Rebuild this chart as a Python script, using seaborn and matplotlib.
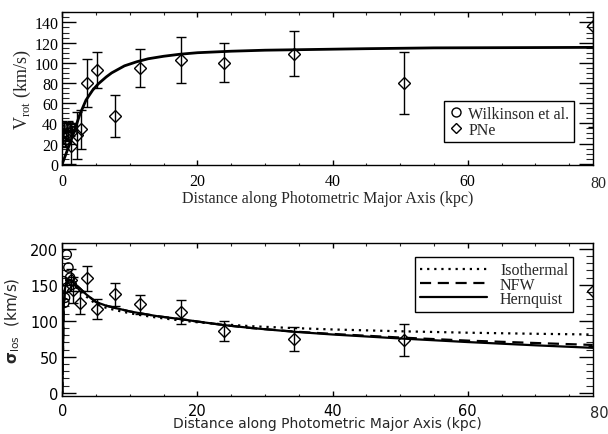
import numpy as np
import pandas as pd
import matplotlib
matplotlib.use('Agg')
import matplotlib.pyplot as plt
import seaborn as sns
from matplotlib.ticker import MultipleLocator
from matplotlib.lines import Line2D

# ---------------- data ----------------
# Wilkinson et al. (inner points)
wilk_r = [0.1, 0.25, 0.4, 0.55, 0.7, 0.9, 1.15, 1.45]
wilk_vrot = [26, 37, 22, 29, 36, 28, 37, 32]
wilk_vrot_err = [5, 5, 5, 5, 5, 5, 5, 5]
wilk_r_sig = [0.15, 0.3, 0.4, 0.65, 0.65, 0.9, 1.15, 1.4]
wilk_sigma = [155, 125, 132, 192, 146, 174, 160, 150]

# PNe
pne_r = [1.3, 2.1, 2.7, 3.7, 5.2, 7.8, 11.5, 17.5, 24.0, 34.3, 50.5, 78.5]
pne_vrot = [18, 28, 34, 80, 93, 47, 95, 103, 100, 109, 80, 136]
pne_vrot_err = [21, 23, 19, 24, 18, 21, 19, 23, 19.5, 22.5, 31, 100]
pne_r_sig = [1.3, 1.6, 2.6, 3.7, 5.2, 7.8, 11.5, 17.5, 24.0, 34.3, 50.5, 78.5]
pne_sigma = [157, 143, 125, 159, 116, 137, 123, 112, 85.5, 75, 73.4, 141]
pne_sigma_err = [15, 18, 16, 17, 14, 16, 13, 17, 13.6, 17, 22, 76]

# rotation-curve model
rot_r = [0, 0.5, 1, 1.5, 2, 2.6, 3.5, 4.5, 5.3, 6.5, 7.3, 9.2, 11, 12.7, 15,
         17.4, 20, 25, 30, 35, 45, 55, 65, 78.5]
rot_v = [0, 9, 18, 27, 37, 49, 63, 73, 79, 86, 90, 97, 101, 104, 106.5,
         108.5, 110, 111.5, 112.5, 113, 114, 114.8, 115, 115.3]

# dispersion models
mod_r = [0, 0.2, 0.4, 0.6, 0.9, 1.3, 2, 2.6, 3.5, 5, 6.5, 8, 10, 11.5, 14,
         17.4, 20, 24, 28, 34, 40, 50, 60, 70, 78.5]
sig_hern = [0, 120, 145, 153, 157, 156, 150, 145, 137, 126, 121, 117.5, 113,
            110.5, 106.5, 102.5, 99, 94, 90, 85, 81, 75.5, 70.5, 66, 62.5]
sig_nfw = [0, 120, 145, 153, 157, 156, 150, 145, 137, 126, 121, 117.5, 113,
           110.5, 106.5, 102.5, 99, 94, 90, 85.3, 81.8, 76.8, 72.5, 69.2, 66.5]
sig_iso = [0, 118, 142, 150, 154, 153, 147, 142, 134, 123, 118, 114.5, 110.5,
           108, 104.5, 100.5, 98, 95, 92.5, 90, 88, 85.5, 83.5, 82, 81]

xticks = [0, 20, 40, 60]
last_tick_label = '80'
xlabel = 'Distance along Photometric Major Axis (kpc)'

# ---------------- style ----------------
sns.set_theme(style='ticks')
plt.rcParams['font.family'] = ['Liberation Serif', 'DejaVu Serif']
plt.rcParams['mathtext.fontset'] = 'custom'
plt.rcParams['mathtext.rm'] = 'Liberation Serif'
plt.rcParams['mathtext.it'] = 'DejaVu Sans:italic'
plt.rcParams['mathtext.sf'] = 'DejaVu Sans'
plt.rcParams['mathtext.bf'] = 'DejaVu Sans:bold'

SERIF = 'Liberation Serif'
SANS = 'DejaVu Sans'

fig = plt.figure(figsize=(6.08, 4.35), dpi=100)
fig.patch.set_facecolor('white')
ax1 = fig.add_axes([0.1025, 0.619, 0.8724, 0.3503])
ax2 = fig.add_axes([0.1025, 0.088, 0.8724, 0.351])

for ax in (ax1, ax2):
    ax.set_facecolor('white')
    for s in ax.spines.values():
        s.set_visible(True)
        s.set_color('black')
        s.set_linewidth(1.0)
    ax.set_xlim(0, 78.5)
    ax.xaxis.set_major_locator(MultipleLocator(20))
    ax.xaxis.set_minor_locator(MultipleLocator(5))
    ax.tick_params(axis='x', which='major', direction='in', length=3.5, width=1,
                   top=True, bottom=True, colors='black')
    ax.tick_params(axis='x', which='minor', direction='in', length=1.8, width=0.8,
                   top=True, bottom=True)
    ax.tick_params(axis='y', which='major', direction='in', length=10, width=1,
                   left=True, right=True, colors='black')
    ax.tick_params(axis='y', which='minor', direction='in', length=5, width=0.8,
                   left=True, right=True)
    ax.grid(False)

# ---------------- top panel ----------------
sns.lineplot(x=rot_r, y=rot_v, ax=ax1, color='black', lw=2.0, estimator=None,
             sort=False, legend=False)
ax1.errorbar(wilk_r, wilk_vrot, yerr=wilk_vrot_err, fmt='o', ms=6.5, mfc='none',
             mec='black', mew=1.0, ecolor='black', elinewidth=1.0, capsize=2.5,
             capthick=1.0, clip_on=True)
ax1.errorbar(pne_r, pne_vrot, yerr=pne_vrot_err, fmt='D', ms=6, mfc='none',
             mec='black', mew=1.0, ecolor='black', elinewidth=1.0, capsize=3.5,
             capthick=1.0, clip_on=True)
ax1.set_ylim(-1, 150)
ax1.yaxis.set_major_locator(MultipleLocator(20))
ax1.yaxis.set_minor_locator(MultipleLocator(5))
ax1.set_xticks(xticks)
for lab in ax1.get_xticklabels() + ax1.get_yticklabels():
    lab.set_fontfamily(SERIF)
    lab.set_fontsize(11.5)
ax1.tick_params(axis='x', pad=6)
ax1.tick_params(axis='y', pad=3)
ax1.text(79.4, -0.07, last_tick_label, transform=ax1.get_xaxis_transform(),
         ha='center', va='top', fontfamily=SERIF, fontsize=11.5, clip_on=False)
ax1.set_xlabel(xlabel, fontfamily=SERIF, fontsize=11.5, labelpad=1)
ax1.set_ylabel(r'V$_{\rm rot}$ (km/s)', fontfamily=SERIF, fontsize=13, labelpad=1)

h_w = Line2D([], [], ls='none', marker='o', ms=6.5, mfc='none', mec='black', mew=1)
h_p = Line2D([], [], ls='none', marker='D', ms=5.5, mfc='none', mec='black', mew=1)
leg1 = ax1.legend([h_w, h_p], ['Wilkinson et al.', 'PNe'], loc='lower right',
                  bbox_to_anchor=(0.965, 0.147), frameon=True, fancybox=False,
                  shadow=False, framealpha=1, edgecolor='black',
                  prop={'family': SERIF, 'size': 11.5}, handlelength=0.8,
                  handletextpad=0.4, borderpad=0.3, labelspacing=0.0,
                  borderaxespad=0)
leg1.get_frame().set_linewidth(1.0)

# ---------------- bottom panel ----------------
sns.lineplot(x=mod_r, y=sig_iso, ax=ax2, color='black', lw=1.6, estimator=None,
             sort=False, legend=False, linestyle=(0, (1, 2.2)))
sns.lineplot(x=mod_r, y=sig_nfw, ax=ax2, color='black', lw=1.6, estimator=None,
             sort=False, legend=False, linestyle=(0, (5, 3)))
sns.lineplot(x=mod_r, y=sig_hern, ax=ax2, color='black', lw=1.6, estimator=None,
             sort=False, legend=False)
sns.scatterplot(x=wilk_r_sig, y=wilk_sigma, ax=ax2, s=45, marker='o',
                facecolor='none', edgecolor='black', linewidth=1.0, zorder=3,
                legend=False)
ax2.errorbar(pne_r_sig, pne_sigma, yerr=pne_sigma_err, fmt='D', ms=6, mfc='none',
             mec='black', mew=1.0, ecolor='black', elinewidth=1.0, capsize=3.5,
             capthick=1.0)
ax2.set_ylim(-4, 208)
ax2.yaxis.set_major_locator(MultipleLocator(50))
ax2.yaxis.set_minor_locator(MultipleLocator(10))
ax2.set_xticks(xticks)
for lab in ax2.get_xticklabels() + ax2.get_yticklabels():
    lab.set_fontfamily(SANS)
    lab.set_fontsize(10.5)
ax2.tick_params(axis='x', pad=5)
ax2.tick_params(axis='y', pad=3)
ax2.text(79.4, -0.06, last_tick_label, transform=ax2.get_xaxis_transform(),
         ha='center', va='top', fontfamily=SANS, fontsize=10.5, clip_on=False)
ax2.set_xlabel(xlabel, fontfamily=SANS, fontsize=10, labelpad=-1)
ax2.set_ylabel(r'$\mathbf{\sigma}_{\mathsf{los}}$  (km/s)', fontfamily=SANS,
               fontsize=11, labelpad=6)

hl = [Line2D([], [], color='black', lw=1.6, ls=(0, (1, 2.2))),
      Line2D([], [], color='black', lw=1.6, ls=(0, (5, 3))),
      Line2D([], [], color='black', lw=1.6)]
leg2 = ax2.legend(hl, ['Isothermal', 'NFW', 'Hernquist'], loc='upper right',
                  bbox_to_anchor=(0.963, 0.906), frameon=True, fancybox=False,
                  shadow=False, framealpha=1, edgecolor='black',
                  prop={'family': SERIF, 'size': 11.5}, handlelength=4.2,
                  handletextpad=0.8, borderpad=0.3, labelspacing=-0.1,
                  borderaxespad=0)
leg2.get_frame().set_linewidth(1.0)

fig.savefig('out.png', dpi=100, facecolor='white')
